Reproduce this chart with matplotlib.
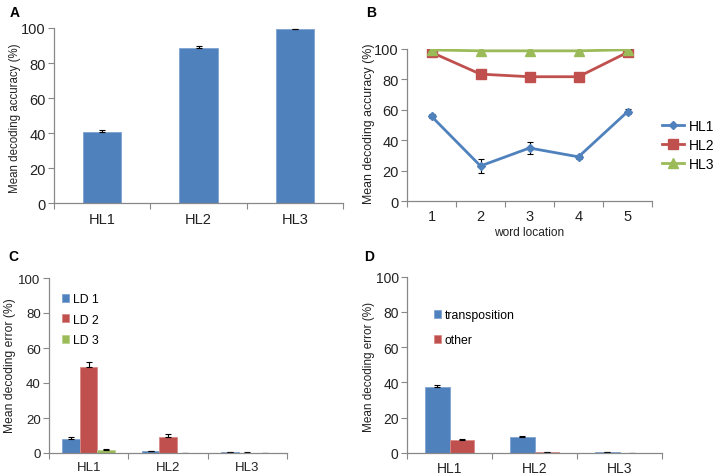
import matplotlib
matplotlib.use("Agg")
import matplotlib.pyplot as plt
from matplotlib.lines import Line2D
import numpy as np

plt.rcParams['font.family'] = ['Liberation Sans', 'DejaVu Sans']

# ---- data ----
hl_labels = ["HL1", "HL2", "HL3"]

acc_mean = [40.4, 88.8, 99.4]
acc_err = [1.5, 1.0, 0.3]

word_loc = [1, 2, 3, 4, 5]
loc_hl1 = [55.6, 23.0, 34.8, 29.0, 58.6]
loc_hl1_err = [1.2, 4.8, 4.0, 1.2, 1.6]
loc_hl2 = [97.6, 83.3, 81.6, 81.6, 97.6]
loc_hl2_err = [0.5, 0.8, 0.8, 0.8, 0.5]
loc_hl3 = [99.2, 98.6, 98.6, 98.6, 99.3]
loc_hl3_err = [0.2, 0.2, 0.2, 0.2, 0.2]

ld_labels = ["LD 1", "LD 2", "LD 3"]
ld1 = [8.0, 1.1, 0.3]
ld1_err = [1.3, 0.2, 0.1]
ld2 = [49.3, 9.2, 0.0]
ld2_err = [2.5, 1.8, 0.4]
ld3 = [1.7, 0.0, 0.0]
ld3_err = [0.4, 0.0, 0.0]

err_labels = ["transposition", "other"]
trans = [37.3, 8.9, 0.4]
trans_err = [1.5, 0.8, 0.1]
other = [7.1, 0.5, 0.0]
other_err = [1.0, 0.1, 0.0]

BLUE = "#4F81BD"
RED = "#C0504D"
GREEN = "#9BBB59"
AXC = "#888888"
TXT = "#222222"

W, H = 714, 477
fig = plt.figure(figsize=(W / 100, H / 100), dpi=100)


def add_ax(left, right, top, bottom):
    return fig.add_axes([left / W, 1 - bottom / H, (right - left) / W, (bottom - top) / H])


def style(ax, ylabel, ncat, lab_x, lab_y, tsize=10.5, lsize=8.5):
    for s in ("top", "right"):
        ax.spines[s].set_visible(False)
    for s in ("left", "bottom"):
        ax.spines[s].set_color(AXC)
        ax.spines[s].set_linewidth(0.9)
    ax.set_ylim(0, 100)
    ax.set_yticks([0, 20, 40, 60, 80, 100])
    ax.tick_params(axis="y", direction="out", length=4, color=AXC, labelsize=tsize,
                   labelcolor=TXT, pad=2)
    ax.set_xlim(0.5, ncat + 0.5)
    ax.set_xticks(np.arange(0.5, ncat + 1.0, 1.0))
    ax.set_xticklabels([])
    ax.tick_params(axis="x", which="major", direction="out", length=4, color=AXC)
    ax.set_ylabel(ylabel, fontsize=lsize, color=TXT)
    ax.yaxis.set_label_coords(lab_x / W, 1 - lab_y / H, transform=fig.transFigure)


def cat_labels(ax, labels, tsize=10.5):
    ax.set_xticks(np.arange(1, len(labels) + 1), minor=True)
    ax.set_xticklabels(labels, minor=True)
    ax.tick_params(axis="x", which="minor", length=0, labelsize=tsize, labelcolor=TXT, pad=6)


ekw = dict(ecolor="black", elinewidth=0.8, capsize=2.5, capthick=0.8)

# ---- A ----
axA = add_ax(54, 343, 29, 204.3)
style(axA, "Mean decoding accuracy (%)", 3, 21, 118, lsize=8.3)
xA = np.arange(1, 4)
axA.bar(xA, acc_mean, width=0.4, color=BLUE, edgecolor="#7EA3D3", linewidth=0.6,
        yerr=[np.zeros(3), acc_err], error_kw=ekw, zorder=2)
cat_labels(axA, hl_labels)

# ---- B ----
axB = add_ax(407, 652, 49.7, 202)
style(axB, "Mean decoding accuracy (%)", 5, 375, 123.5, lsize=8.9)
cat_labels(axB, [str(v) for v in word_loc])
axB.set_xlabel("word location", fontsize=8.6, color=TXT, labelpad=2)
ekwB = dict(ecolor="black", elinewidth=0.8, capsize=2.5, capthick=0.8)
series_B = [("HL1", loc_hl1, loc_hl1_err, BLUE, "D", 4.5),
            ("HL2", loc_hl2, loc_hl2_err, RED, "s", 6.5),
            ("HL3", loc_hl3, loc_hl3_err, GREEN, "^", 6.5)]
handles = []
for lab, vals, errs, col, mk, ms in series_B:
    z = 3 if lab == "HL3" else 2
    axB.errorbar(word_loc, vals, yerr=errs, color=col, marker=mk, markersize=ms,
                 linewidth=2, zorder=z, **ekwB)
    handles.append(Line2D([], [], color=col, marker=mk, markersize=ms, linewidth=2, label=lab))
axB.legend(handles=handles, loc="upper left",
           bbox_to_anchor=(662 / W, 1 - 120 / H), bbox_transform=fig.transFigure,
           frameon=False, fontsize=10, handlelength=1.6, handletextpad=0.3,
           labelspacing=0.35, borderaxespad=0, borderpad=0)

# ---- C ----
axC = add_ax(49, 287, 279, 454)
style(axC, "Mean decoding error (%)", 3, 16, 366, tsize=9.5, lsize=8.7)
xC = np.arange(1, 4)
bwC = 0.22
for off, vals, errs, col, edge, lab in [(-bwC, ld1, ld1_err, BLUE, "#7EA3D3", ld_labels[0]),
                                         (0, ld2, ld2_err, RED, "#D98A88", ld_labels[1]),
                                         (bwC, ld3, ld3_err, GREEN, "#BAD38E", ld_labels[2])]:
    axC.bar(xC + off, vals, width=bwC, color=col, edgecolor=edge, linewidth=0.6,
            yerr=[np.zeros(3), errs], error_kw=ekw, label=lab, zorder=2)
cat_labels(axC, hl_labels, tsize=9.5)
axC.legend(loc="upper left", bbox_to_anchor=(62 / W, 1 - 294 / H), bbox_transform=fig.transFigure,
           frameon=False, fontsize=8.8, handlelength=0.6, handleheight=0.6,
           handletextpad=0.3, labelspacing=0.7, borderaxespad=0, borderpad=0)

# ---- D ----
axD = add_ax(407, 662, 277.7, 454)
style(axD, "Mean decoding error (%)", 3, 375, 367, tsize=10, lsize=8.5)
xD = np.arange(1, 4)
bwD = 0.29
axD.bar(xD - bwD / 2, trans, width=bwD, color=BLUE, edgecolor="#7EA3D3", linewidth=0.6,
        yerr=[np.zeros(3), trans_err], error_kw=ekw, label=err_labels[0], zorder=2)
axD.bar(xD + bwD / 2, other, width=bwD, color=RED, edgecolor="#D98A88", linewidth=0.6,
        yerr=[np.zeros(3), other_err], error_kw=ekw, label=err_labels[1], zorder=2)
cat_labels(axD, hl_labels, tsize=10)
axD.legend(loc="upper left", bbox_to_anchor=(434 / W, 1 - 310 / H), bbox_transform=fig.transFigure,
           frameon=False, fontsize=8.8, handlelength=0.6, handleheight=0.6,
           handletextpad=0.3, labelspacing=1.1, borderaxespad=0, borderpad=0)

# ---- panel letters ----
for txt, px, py in [("A", 10, 13), ("B", 366, 13), ("C", 8, 257), ("D", 364, 257)]:
    fig.text(px / W, 1 - py / H, txt, fontsize=10, fontweight="bold", color="black",
             va="center", ha="left")

fig.savefig("out.png", dpi=100)
